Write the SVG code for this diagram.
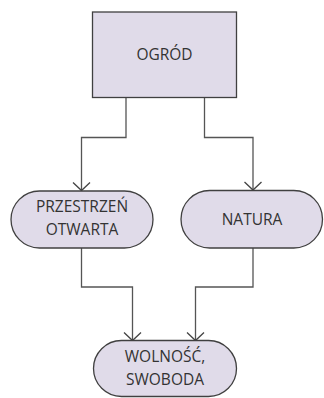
<svg xmlns="http://www.w3.org/2000/svg" width="324" height="398" viewBox="0 0 324 398">
<defs>
<style>
.box{fill:#e0dbe9;stroke:#404040;stroke-width:1.3}
.lbl{font-family:"Open Sans","Liberation Sans",sans-serif;font-size:15.5px;fill:#333;text-anchor:middle}
.con{fill:none;stroke:#555;stroke-width:1.3}
</style>
<marker id="arr" markerUnits="userSpaceOnUse" markerWidth="20" markerHeight="20" refX="9" refY="9" orient="auto" viewBox="0 0 20 20">
<path d="M1,0.5 L9,9 L1,17.5" fill="none" stroke="#444" stroke-width="1.3"/>
</marker>
</defs>
<g id="connectors">
<path class="con" d="M126,97.5 V137.5 H81.5 V190.5" marker-end="url(#arr)"/>
<path class="con" d="M204.5,97.5 V137.5 H253 V190" marker-end="url(#arr)"/>
<path class="con" d="M81.5,248 V287 H132.5 V340.5" marker-end="url(#arr)"/>
<path class="con" d="M253,248 V287 H195.5 V340.5" marker-end="url(#arr)"/>
</g>
<g id="ogrod">
<rect class="box" x="92.5" y="12" width="144" height="85.5"/>
<text class="lbl" x="164.5" y="60">OGRÓD</text>
</g>
<g id="przestrzen">
<rect class="box" x="11" y="191" width="142" height="57" rx="28.5"/>
<text class="lbl" x="82" y="212">PRZESTRZEŃ</text>
<text class="lbl" x="82" y="235">OTWARTA</text>
</g>
<g id="natura">
<rect class="box" x="181" y="190.5" width="141.5" height="57.5" rx="28.7"/>
<text class="lbl" x="252" y="225">NATURA</text>
</g>
<g id="wolnosc">
<rect class="box" x="93.5" y="340.5" width="143" height="56" rx="28"/>
<text class="lbl" x="165" y="361.5">WOLNOŚĆ,</text>
<text class="lbl" x="165" y="385">SWOBODA</text>
</g>
</svg>
